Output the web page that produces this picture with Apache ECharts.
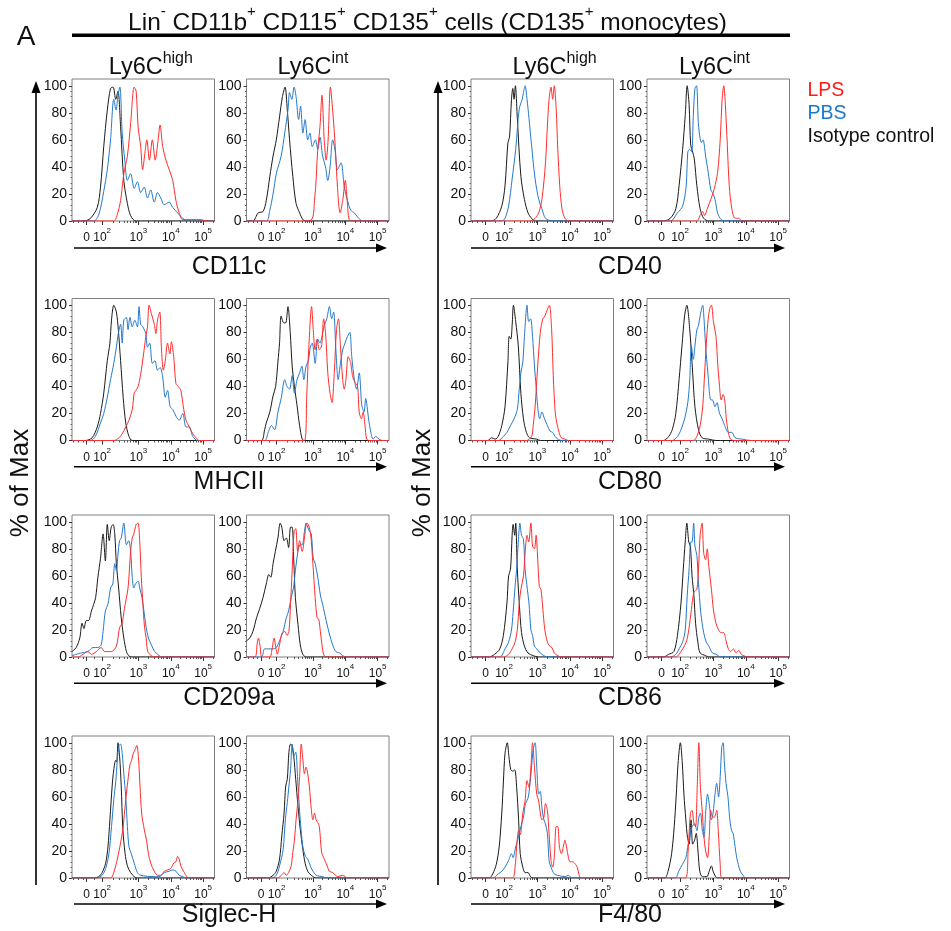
<!DOCTYPE html>
<html><head><meta charset="utf-8">
<script src="https://cdn.jsdelivr.net/npm/echarts/dist/echarts.min.js"></script>
<style>html,body{margin:0;padding:0;background:#fff}#c{width:951px;height:931px}</style>
</head><body><div id="c"></div>
<script>
// ---------- categories / ticks ----------
const markers = ['CD11c', 'MHCII', 'CD209a', 'Siglec-H', 'CD40', 'CD80', 'CD86', 'F4/80'];
const subsets = ['high', 'int'];
const groups = ['LPS', 'PBS', 'Isotype control'];
const yTickValues = [0, 20, 40, 60, 80, 100];
const xTickLabels = ['{b|0}', '{b|10}{s|2}', '{b|10}{s|3}', '{b|10}{s|4}', '{b|10}{s|5}'];
// positions of 0, 10^2..10^5 on the logicle display scale (decades)
const xTickValuesLeft = [1.40, 1.88, 3, 4, 5];
const xTickValuesRight = [1.40, 1.97, 3, 4, 5];
const XMIN = 0.95, XMAX = 5.35, YMAX = 105;

// ---------- data: [display-scale intensity, % of max] ----------
const CD11c_high_Iso = [[1.31,0],[1.52,2],[1.73,10],[1.83,25],[1.93,55],[2.04,82],[2.14,98],[2.22,99],[2.30,90],[2.37,96],[2.45,70],[2.55,30],[2.66,13],[2.76,4],[2.92,0]];
const CD11c_high_PBS = [[1.62,0],[1.78,5],[1.93,22],[2.04,38],[2.14,60],[2.24,90],[2.31,82],[2.37,93],[2.43,99],[2.50,65],[2.58,45],[2.66,30],[2.76,35],[2.87,24],[2.97,29],[3.07,21],[3.18,25],[3.28,17],[3.38,23],[3.49,14],[3.59,21],[3.69,17],[3.80,12],[3.95,14],[4.06,10],[4.21,6],[4.37,2],[4.52,0]];
const CD11c_high_LPS = [[2.24,0],[2.35,5],[2.45,15],[2.55,35],[2.66,48],[2.76,72],[2.87,99],[2.93,96],[2.99,70],[3.07,55],[3.13,38],[3.20,50],[3.26,60],[3.34,45],[3.43,60],[3.52,45],[3.60,58],[3.67,71],[3.75,55],[3.85,45],[3.95,38],[4.06,30],[4.16,15],[4.26,6],[4.37,1],[4.94,1],[5.09,0]];

const CD11c_int_Iso = [[1.15,0],[1.31,6],[1.46,7],[1.56,15],[1.67,33],[1.77,48],[1.87,60],[1.97,77],[2.06,92],[2.14,99],[2.21,82],[2.28,60],[2.38,33],[2.48,13],[2.59,6],[2.69,1],[2.79,0]];
const CD11c_int_PBS = [[1.56,0],[1.67,8],[1.77,20],[1.87,35],[2.02,48],[2.13,65],[2.23,82],[2.28,95],[2.35,90],[2.42,99],[2.48,92],[2.56,75],[2.62,85],[2.69,65],[2.76,75],[2.84,60],[2.91,65],[2.98,55],[3.08,60],[3.15,53],[3.22,62],[3.30,48],[3.39,40],[3.46,30],[3.53,40],[3.61,60],[3.68,53],[3.76,38],[3.87,43],[3.97,25],[4.07,15],[4.17,8],[4.28,6],[4.38,3],[4.53,0]];
const CD11c_int_LPS = [[2.89,0],[3.05,15],[3.15,53],[3.22,70],[3.28,93],[3.35,60],[3.41,45],[3.47,60],[3.54,99],[3.61,82],[3.69,55],[3.76,25],[3.84,6],[3.92,15],[4.00,30],[4.06,15],[4.12,1],[4.22,0]];

const MHCII_high_Iso = [[1.36,0],[1.57,2],[1.73,10],[1.83,20],[1.93,35],[2.04,59],[2.12,72],[2.17,89],[2.24,100],[2.32,95],[2.38,82],[2.45,59],[2.53,32],[2.61,13],[2.71,3],[2.81,0]];
const MHCII_high_PBS = [[1.52,0],[1.67,3],[1.83,13],[1.93,20],[2.04,32],[2.14,45],[2.24,57],[2.32,69],[2.38,79],[2.45,86],[2.50,72],[2.55,89],[2.63,91],[2.68,82],[2.74,91],[2.81,84],[2.89,89],[2.97,84],[3.02,99],[3.07,86],[3.14,84],[3.23,79],[3.28,69],[3.35,72],[3.43,57],[3.51,59],[3.59,52],[3.67,54],[3.75,47],[3.83,32],[3.90,37],[3.98,25],[4.06,23],[4.16,18],[4.26,15],[4.37,20],[4.47,10],[4.57,10],[4.68,3],[4.83,0]];
const MHCII_high_LPS = [[2.24,0],[2.40,2],[2.50,5],[2.61,10],[2.71,15],[2.81,23],[2.87,35],[2.92,37],[2.99,40],[3.07,49],[3.16,64],[3.23,77],[3.28,84],[3.33,100],[3.40,94],[3.49,86],[3.54,79],[3.59,89],[3.66,95],[3.71,69],[3.77,52],[3.83,59],[3.90,72],[3.97,64],[4.02,73],[4.09,62],[4.16,42],[4.23,40],[4.31,37],[4.40,23],[4.47,15],[4.57,10],[4.68,5],[4.78,2],[4.88,0]];

const MHCII_int_Iso = [[1.41,0],[1.51,8],[1.56,13],[1.67,21],[1.77,33],[1.85,40],[1.92,58],[1.97,72],[2.02,92],[2.10,87],[2.16,87],[2.23,99],[2.30,80],[2.36,55],[2.43,40],[2.51,26],[2.59,11],[2.67,1],[2.74,0]];
const MHCII_int_PBS = [[1.51,0],[1.62,6],[1.72,11],[1.82,8],[1.92,21],[2.02,31],[2.13,45],[2.20,40],[2.28,38],[2.36,48],[2.43,35],[2.51,45],[2.59,50],[2.66,55],[2.72,45],[2.79,55],[2.86,59],[2.92,69],[2.98,72],[3.07,57],[3.15,75],[3.22,72],[3.28,77],[3.35,85],[3.43,90],[3.51,99],[3.58,90],[3.64,95],[3.71,67],[3.78,45],[3.85,57],[3.92,67],[3.99,72],[4.07,77],[4.14,80],[4.20,62],[4.28,45],[4.35,38],[4.43,50],[4.51,26],[4.58,21],[4.63,31],[4.72,16],[4.79,6],[4.86,1],[4.94,3],[5.04,1],[5.15,0]];
const MHCII_int_LPS = [[2.74,0],[2.81,33],[2.87,67],[2.96,99],[3.01,82],[3.07,67],[3.13,75],[3.20,67],[3.27,70],[3.33,90],[3.39,80],[3.46,50],[3.53,35],[3.59,28],[3.66,50],[3.73,82],[3.79,90],[3.85,70],[3.92,45],[3.97,38],[4.02,45],[4.09,62],[4.17,57],[4.22,48],[4.30,43],[4.38,40],[4.43,21],[4.50,16],[4.55,21],[4.61,11],[4.66,1],[4.74,0]];

const CD209a_high_Iso = [[0.95,4],[1.08,7],[1.19,14],[1.26,25],[1.32,21],[1.39,27],[1.46,27],[1.55,34],[1.62,39],[1.68,44],[1.75,59],[1.83,73],[1.91,91],[1.98,71],[2.04,98],[2.10,86],[2.16,96],[2.22,98],[2.27,91],[2.32,69],[2.39,51],[2.47,29],[2.55,14],[2.63,4],[2.70,1],[2.78,0]];
const CD209a_high_PBS = [[0.95,1],[1.24,3],[1.44,4],[1.60,7],[1.75,7],[1.85,9],[1.91,19],[1.98,34],[2.06,39],[2.14,51],[2.21,54],[2.27,69],[2.32,64],[2.37,76],[2.42,86],[2.47,88],[2.55,99],[2.63,83],[2.70,86],[2.76,78],[2.81,59],[2.86,51],[2.91,54],[2.99,56],[3.04,51],[3.11,44],[3.17,34],[3.24,22],[3.31,14],[3.40,9],[3.50,4],[3.60,2],[3.71,0]];
const CD209a_high_LPS = [[1.14,0],[1.29,2],[1.44,4],[1.55,2],[1.70,4],[1.85,7],[1.96,4],[2.16,4],[2.32,8],[2.42,22],[2.49,24],[2.57,36],[2.68,51],[2.76,78],[2.81,88],[2.86,91],[2.93,98],[2.99,99],[3.04,86],[3.09,59],[3.14,39],[3.19,22],[3.24,14],[3.29,4],[3.40,1],[3.50,0]];

const CD209a_int_Iso = [[0.95,12],[1.05,14],[1.15,19],[1.26,29],[1.36,36],[1.46,44],[1.56,54],[1.64,61],[1.70,59],[1.77,69],[1.84,78],[1.92,88],[1.99,99],[2.04,96],[2.11,86],[2.18,88],[2.25,81],[2.31,96],[2.36,96],[2.41,71],[2.46,44],[2.54,24],[2.61,9],[2.69,2],[2.79,0]];
const CD209a_int_PBS = [[1.41,0],[1.51,6],[1.77,6],[1.87,7],[1.97,12],[2.08,19],[2.18,29],[2.25,34],[2.33,44],[2.40,51],[2.46,64],[2.54,78],[2.61,83],[2.67,83],[2.74,93],[2.79,99],[2.84,96],[2.89,93],[2.95,91],[3.01,73],[3.07,69],[3.15,59],[3.23,46],[3.30,39],[3.41,27],[3.51,17],[3.61,9],[3.71,4],[3.82,3],[3.92,1],[4.02,0]];
const CD209a_int_LPS = [[1.21,0],[1.28,10],[1.32,14],[1.37,8],[1.43,0],[1.67,0],[1.74,6],[1.80,14],[1.85,8],[1.90,2],[1.97,9],[2.04,17],[2.13,19],[2.20,16],[2.26,19],[2.31,39],[2.36,64],[2.42,93],[2.47,95],[2.53,78],[2.59,86],[2.67,78],[2.74,88],[2.81,99],[2.86,98],[2.93,91],[3.00,69],[3.07,44],[3.13,29],[3.18,28],[3.23,19],[3.28,9],[3.33,2],[3.41,0]];

const SiglecH_high_Iso = [[1.62,0],[1.78,1],[1.88,4],[1.99,11],[2.06,23],[2.12,43],[2.19,68],[2.24,80],[2.30,87],[2.33,86],[2.37,100],[2.42,90],[2.47,68],[2.52,36],[2.59,18],[2.66,9],[2.76,4],[2.87,1],[2.97,0]];
const SiglecH_high_PBS = [[1.73,0],[1.88,2],[1.99,7],[2.09,18],[2.17,38],[2.24,58],[2.30,71],[2.35,87],[2.40,98],[2.45,99],[2.50,92],[2.55,77],[2.61,60],[2.66,38],[2.71,23],[2.78,18],[2.87,11],[2.97,4],[3.07,2],[3.49,1],[3.64,1],[3.80,4],[3.95,5],[4.06,6],[4.16,5],[4.26,2],[4.37,1],[4.47,0]];
const SiglecH_high_LPS = [[2.14,0],[2.24,4],[2.35,14],[2.45,26],[2.52,36],[2.61,58],[2.69,75],[2.74,84],[2.79,87],[2.84,92],[2.90,95],[2.95,98],[3.00,90],[3.05,68],[3.10,48],[3.18,36],[3.25,28],[3.31,18],[3.38,11],[3.49,5],[3.59,2],[3.69,2],[3.80,5],[3.90,6],[4.00,7],[4.09,11],[4.16,12],[4.21,16],[4.26,14],[4.31,9],[4.37,6],[4.42,4],[4.49,1],[4.57,0]];

const SiglecH_int_Iso = [[1.62,0],[1.77,2],[1.87,5],[1.97,14],[2.04,31],[2.11,48],[2.16,68],[2.21,73],[2.26,93],[2.31,99],[2.36,98],[2.41,90],[2.47,73],[2.54,53],[2.61,36],[2.69,21],[2.76,11],[2.84,5],[2.95,2],[3.10,0]];
const SiglecH_int_PBS = [[1.72,0],[1.87,2],[1.97,9],[2.08,21],[2.15,43],[2.21,56],[2.26,68],[2.31,80],[2.36,99],[2.41,90],[2.47,93],[2.54,68],[2.61,43],[2.69,23],[2.77,16],[2.84,14],[2.92,9],[2.98,6],[3.10,2],[3.30,1],[3.41,0]];
const SiglecH_int_LPS = [[1.92,0],[2.02,2],[2.11,4],[2.18,2],[2.25,4],[2.33,9],[2.38,19],[2.43,28],[2.48,43],[2.54,58],[2.59,75],[2.64,99],[2.69,88],[2.74,77],[2.79,82],[2.84,77],[2.89,68],[2.95,51],[3.00,43],[3.05,48],[3.10,43],[3.15,41],[3.20,38],[3.27,19],[3.35,14],[3.44,9],[3.51,5],[3.61,4],[3.77,1],[3.92,2],[4.07,0]];

const CD40_high_Iso = [[1.57,0],[1.73,2],[1.90,11],[2.00,26],[2.09,58],[2.14,62],[2.20,90],[2.24,98],[2.28,90],[2.32,100],[2.38,76],[2.49,33],[2.60,16],[2.71,6],[2.82,2],[2.93,0]];
const CD40_high_PBS = [[1.90,0],[2.00,2],[2.11,11],[2.22,31],[2.33,53],[2.44,83],[2.53,90],[2.57,95],[2.62,100],[2.68,90],[2.74,76],[2.82,56],[2.93,31],[3.04,16],[3.14,9],[3.25,2],[3.47,0]];
const CD40_high_LPS = [[2.76,0],[2.93,2],[3.04,6],[3.14,16],[3.25,43],[3.31,71],[3.36,90],[3.42,99],[3.47,90],[3.52,100],[3.58,83],[3.63,53],[3.69,26],[3.76,9],[3.85,2],[3.98,0]];

const CD40_int_Iso = [[1.46,0],[1.67,2],[1.84,9],[1.94,26],[2.05,53],[2.13,78],[2.19,100],[2.25,86],[2.30,56],[2.36,51],[2.41,46],[2.49,26],[2.59,9],[2.70,2],[2.86,0]];
const CD40_int_PBS = [[1.67,0],[1.89,6],[2.05,11],[2.16,26],[2.21,51],[2.27,53],[2.33,51],[2.38,78],[2.43,98],[2.48,100],[2.54,71],[2.63,58],[2.68,60],[2.76,48],[2.84,36],[2.92,23],[2.97,21],[3.05,16],[3.13,6],[3.24,1],[3.40,0]];
const CD40_int_LPS = [[2.48,0],[2.59,4],[2.67,7],[2.73,4],[2.81,9],[2.92,16],[3.03,24],[3.13,36],[3.21,60],[3.27,90],[3.32,100],[3.37,86],[3.43,56],[3.49,26],[3.57,9],[3.67,2],[3.78,2],[3.89,0]];

const CD80_high_Iso = [[1.46,0],[1.59,2],[1.70,1],[1.79,3],[1.90,11],[2.00,25],[2.09,58],[2.13,77],[2.18,75],[2.22,85],[2.26,100],[2.33,88],[2.41,70],[2.49,35],[2.57,16],[2.66,6],[2.76,2],[2.98,1],[3.09,0]];
const CD80_high_PBS = [[1.79,0],[1.95,3],[2.06,6],[2.17,11],[2.28,16],[2.38,23],[2.44,38],[2.49,50],[2.55,58],[2.60,77],[2.68,100],[2.73,88],[2.79,90],[2.85,77],[2.91,55],[2.96,40],[3.01,25],[3.07,16],[3.14,21],[3.22,16],[3.31,11],[3.39,7],[3.47,6],[3.58,2],[3.74,0]];
const CD80_high_LPS = [[2.66,0],[2.82,3],[2.87,11],[2.93,25],[3.01,55],[3.09,80],[3.17,90],[3.23,92],[3.31,97],[3.37,100],[3.44,82],[3.49,48],[3.55,21],[3.60,13],[3.67,6],[3.74,2],[3.85,1],[3.96,0]];

const CD80_int_Iso = [[1.46,0],[1.62,3],[1.73,8],[1.84,20],[1.94,45],[2.03,70],[2.11,92],[2.18,100],[2.27,82],[2.36,50],[2.43,25],[2.54,8],[2.65,2],[2.86,1],[3.08,0]];
const CD80_int_PBS = [[1.73,0],[1.89,3],[2.00,8],[2.11,16],[2.21,28],[2.27,45],[2.32,70],[2.38,60],[2.43,70],[2.49,82],[2.54,85],[2.59,92],[2.67,100],[2.71,90],[2.76,70],[2.83,50],[2.92,30],[2.97,30],[3.05,25],[3.11,28],[3.19,20],[3.27,16],[3.35,11],[3.46,6],[3.57,6],[3.67,2],[3.89,1],[4.16,0]];
const CD80_int_LPS = [[2.38,0],[2.49,3],[2.59,11],[2.67,25],[2.73,50],[2.81,82],[2.88,97],[2.94,100],[3.00,88],[3.08,77],[3.13,58],[3.19,40],[3.24,30],[3.30,34],[3.35,30],[3.40,16],[3.46,6],[3.53,1],[3.62,0]];

const CD86_high_Iso = [[1.51,0],[1.68,2],[1.84,6],[1.95,16],[2.06,40],[2.11,60],[2.17,65],[2.22,90],[2.25,98],[2.30,90],[2.33,99],[2.38,65],[2.44,40],[2.51,18],[2.60,8],[2.71,3],[2.87,1],[3.04,0]];
const CD86_high_PBS = [[1.84,0],[2.00,6],[2.11,11],[2.20,20],[2.25,33],[2.31,52],[2.36,65],[2.41,85],[2.46,99],[2.51,90],[2.57,87],[2.62,65],[2.69,50],[2.74,40],[2.80,20],[2.85,16],[2.91,8],[2.98,6],[3.09,3],[3.20,1],[3.31,0]];
const CD86_high_LPS = [[1.95,0],[2.11,2],[2.22,6],[2.31,11],[2.38,20],[2.44,40],[2.49,50],[2.57,60],[2.63,80],[2.68,90],[2.73,85],[2.80,99],[2.85,82],[2.91,80],[2.96,90],[3.00,77],[3.06,52],[3.11,50],[3.17,35],[3.23,20],[3.31,11],[3.38,8],[3.45,7],[3.52,3],[3.63,1],[3.74,0]];

const CD86_int_Iso = [[1.46,0],[1.62,2],[1.78,4],[1.89,16],[2.00,40],[2.07,65],[2.13,85],[2.18,99],[2.24,85],[2.29,82],[2.34,60],[2.40,45],[2.45,25],[2.52,11],[2.59,3],[2.76,1],[2.86,0]];
const CD86_int_PBS = [[1.67,0],[1.84,2],[1.94,6],[2.05,11],[2.13,20],[2.19,45],[2.25,65],[2.30,85],[2.34,85],[2.39,99],[2.43,82],[2.49,75],[2.54,55],[2.61,33],[2.70,18],[2.78,11],[2.86,8],[2.97,3],[3.08,2],[3.24,0]];
const CD86_int_LPS = [[1.84,0],[1.94,2],[2.05,6],[2.16,11],[2.24,20],[2.32,35],[2.40,48],[2.49,50],[2.54,65],[2.59,90],[2.65,99],[2.70,77],[2.76,72],[2.81,80],[2.86,67],[2.94,50],[3.00,35],[3.08,25],[3.16,20],[3.24,18],[3.32,18],[3.38,13],[3.46,6],[3.53,4],[3.62,6],[3.70,3],[3.78,5],[3.86,2],[3.94,1],[4.05,0]];

const F480_high_Iso = [[1.51,0],[1.62,3],[1.73,10],[1.82,23],[1.90,48],[1.95,71],[2.00,92],[2.07,100],[2.12,90],[2.18,80],[2.24,79],[2.30,80],[2.36,67],[2.42,43],[2.47,18],[2.55,8],[2.62,4],[2.71,4],[2.79,1],[2.87,0]];
const F480_high_PBS = [[1.62,0],[1.79,3],[1.90,5],[2.00,8],[2.11,13],[2.20,18],[2.25,15],[2.33,23],[2.41,30],[2.49,38],[2.57,45],[2.63,55],[2.71,59],[2.76,67],[2.82,82],[2.87,95],[2.93,100],[2.98,82],[3.04,62],[3.09,64],[3.14,52],[3.20,43],[3.25,40],[3.31,33],[3.36,13],[3.42,8],[3.52,3],[3.63,2],[3.85,1],[3.96,2],[4.07,0]];
const F480_high_LPS = [[2.22,0],[2.31,8],[2.36,23],[2.42,35],[2.47,32],[2.55,48],[2.62,57],[2.68,72],[2.74,67],[2.80,82],[2.85,100],[2.91,82],[2.98,62],[3.04,57],[3.09,48],[3.14,43],[3.20,45],[3.25,55],[3.31,50],[3.36,33],[3.42,13],[3.47,8],[3.52,15],[3.58,38],[3.63,38],[3.68,23],[3.74,18],[3.80,23],[3.85,28],[3.90,23],[3.96,15],[4.01,12],[4.09,12],[4.18,10],[4.23,8],[4.29,2],[4.34,0]];

const F480_int_Iso = [[1.49,0],[1.60,5],[1.71,18],[1.79,38],[1.85,60],[1.91,85],[1.98,100],[2.04,85],[2.09,62],[2.15,43],[2.20,30],[2.25,25],[2.31,43],[2.36,25],[2.42,28],[2.47,33],[2.53,18],[2.58,5],[2.66,1],[2.80,1],[2.87,5],[2.94,9],[2.99,5],[3.07,1],[3.12,0]];
const F480_int_PBS = [[1.82,0],[1.93,5],[2.04,10],[2.15,15],[2.22,25],[2.29,33],[2.34,38],[2.42,40],[2.49,35],[2.55,45],[2.60,48],[2.66,35],[2.71,30],[2.76,48],[2.82,62],[2.87,55],[2.94,43],[2.99,48],[3.05,62],[3.10,70],[3.16,60],[3.21,75],[3.26,97],[3.30,100],[3.34,85],[3.39,70],[3.45,60],[3.50,45],[3.56,35],[3.61,33],[3.67,23],[3.72,15],[3.77,10],[3.83,5],[3.92,2],[3.99,0]];
const F480_int_LPS = [[2.14,0],[2.22,20],[2.29,48],[2.34,50],[2.40,40],[2.45,38],[2.50,67],[2.55,100],[2.60,67],[2.66,48],[2.71,30],[2.76,20],[2.82,15],[2.87,30],[2.92,50],[2.98,45],[3.03,45],[3.10,50],[3.15,35],[3.21,10],[3.26,0]];

// ---------- assemble ----------
const curves = {
  'CD11c':   {high: [CD11c_high_LPS, CD11c_high_PBS, CD11c_high_Iso], int: [CD11c_int_LPS, CD11c_int_PBS, CD11c_int_Iso]},
  'MHCII':   {high: [MHCII_high_LPS, MHCII_high_PBS, MHCII_high_Iso], int: [MHCII_int_LPS, MHCII_int_PBS, MHCII_int_Iso]},
  'CD209a':  {high: [CD209a_high_LPS, CD209a_high_PBS, CD209a_high_Iso], int: [CD209a_int_LPS, CD209a_int_PBS, CD209a_int_Iso]},
  'Siglec-H':{high: [SiglecH_high_LPS, SiglecH_high_PBS, SiglecH_high_Iso], int: [SiglecH_int_LPS, SiglecH_int_PBS, SiglecH_int_Iso]},
  'CD40':    {high: [CD40_high_LPS, CD40_high_PBS, CD40_high_Iso], int: [CD40_int_LPS, CD40_int_PBS, CD40_int_Iso]},
  'CD80':    {high: [CD80_high_LPS, CD80_high_PBS, CD80_high_Iso], int: [CD80_int_LPS, CD80_int_PBS, CD80_int_Iso]},
  'CD86':    {high: [CD86_high_LPS, CD86_high_PBS, CD86_high_Iso], int: [CD86_int_LPS, CD86_int_PBS, CD86_int_Iso]},
  'F4/80':   {high: [F480_high_LPS, F480_high_PBS, F480_high_Iso], int: [F480_int_LPS, F480_int_PBS, F480_int_Iso]}
};

// ---------- style / layout ----------
const FONT = "'Liberation Sans', Arial, Helvetica, sans-serif";
const groupColors = ['#ff2d2d', '#2379cc', '#1a1a1a'];
const legendColors = ['#ff1a1a', '#1a78cc', '#111111'];
const colLeft = [72, 246.5, 471, 647];
const rowTop = [79, 298.5, 515, 736];
const PW = 142.5, PH = 142;

function withBaseline(arr) {
  const a = arr.slice();
  if (a[0][0] > XMIN) a.unshift([XMIN, 0]);
  a.push([XMAX, 0]);
  return a;
}
function minorX(zero, hundred) {
  const t = [1.0, 1.15, 1.29, (zero + hundred) / 2];
  for (let k = 2; k <= 9; k++) t.push(hundred + (3 - hundred) * Math.log10(k));
  for (let d = 3; d <= 5; d++) for (let k = 2; k <= 9; k++) { const v = d + Math.log10(k); if (v < XMAX) t.push(v); }
  return t;
}
const yMinor = [];
for (let v = 4; v < 104; v += 4) if (v % 20 !== 0) yMinor.push(v);

const grid = [], xAxis = [], yAxis = [], series = [];
markers.forEach((mk, m) => {
  const side = m < 4 ? 0 : 1, row = m % 4;
  subsets.forEach((sb, c) => {
    const gi = grid.length;
    grid.push({left: colLeft[side * 2 + c], top: rowTop[row], width: PW, height: PH,
      show: true, borderColor: '#808080', borderWidth: 1, backgroundColor: 'transparent'});
    const xt = side ? xTickValuesRight : xTickValuesLeft;
    xAxis.push({type: 'value', gridIndex: gi, min: XMIN, max: XMAX, position: 'bottom',
      axisLine: {show: false}, splitLine: {show: false},
      axisTick: {show: true, customValues: xt, length: 4, lineStyle: {color: '#333', width: 1}},
      axisLabel: {show: true, customValues: xt, margin: 6, color: '#111', fontFamily: FONT,
        formatter: (v) => { const i = xt.findIndex(t => Math.abs(t - v) < 1e-6); return i < 0 ? '' : xTickLabels[i]; },
        rich: {b: {fontSize: 12, lineHeight: 17, verticalAlign: 'bottom', fontFamily: FONT, color: '#111'},
               s: {fontSize: 8, lineHeight: 9.5, verticalAlign: 'top', fontFamily: FONT, color: '#111'}}}});
    xAxis.push({type: 'value', gridIndex: gi, min: XMIN, max: XMAX, position: 'bottom',
      axisLine: {show: false}, splitLine: {show: false}, axisLabel: {show: false},
      axisTick: {show: true, customValues: minorX(xt[0], xt[1]), length: 2, lineStyle: {color: '#555', width: 1}}});
    yAxis.push({type: 'value', gridIndex: gi, min: 0, max: YMAX, position: 'left',
      axisLine: {show: false}, splitLine: {show: false},
      axisTick: {show: true, customValues: yTickValues, length: 3, lineStyle: {color: '#333'}},
      axisLabel: {show: true, customValues: yTickValues, margin: 5, fontSize: 14, color: '#111', fontFamily: FONT}});
    yAxis.push({type: 'value', gridIndex: gi, min: 0, max: YMAX, position: 'left',
      axisLine: {show: false}, splitLine: {show: false}, axisLabel: {show: false},
      axisTick: {show: true, customValues: yMinor, length: 1.5, lineStyle: {color: '#666'}}});
    const set = curves[mk][sb];
    [2, 1, 0].forEach(g => {
      series.push({type: 'line', name: groups[g], xAxisIndex: gi * 2, yAxisIndex: gi * 2,
        data: withBaseline(set[g]), showSymbol: false, symbol: 'none', smooth: 0.3,
        lineStyle: {width: 1, color: groupColors[g]}, z: 3 + (2 - g), silent: true});
    });
  });
});

// ---------- annotations ----------
const G = [];
const txt = (x, y, text, size, opt = {}) => G.push({type: 'text', x, y, rotation: opt.rot || 0, z: 50,
  style: Object.assign({text, fontSize: size, fontFamily: FONT, fill: opt.fill || '#111', align: opt.align || 'center', verticalAlign: 'middle'}, opt.style || {})});
const richSup = (b, s) => ({b: {fontSize: b, lineHeight: b * 1.25, verticalAlign: 'bottom', fontFamily: FONT, fill: '#111'},
                            s: {fontSize: s, lineHeight: s, verticalAlign: 'top', fontFamily: FONT, fill: '#111'}});
txt(26, 37, 'A', 28);
txt(427.5, 20, '{b|Lin}{s|-}{b| CD11b}{s|+}{b| CD115}{s|+}{b| CD135}{s|+}{b| cells (CD135}{s|+}{b| monocytes)}', 24.5, {style: {rich: richSup(24.5, 15)}});
G.push({type: 'rect', shape: {x: 72, y: 33.5, width: 718, height: 3.5}, style: {fill: '#000'}, z: 50});
const headerX = [150.8, 313, 554.6, 714.5];
headerX.forEach((x, i) => txt(x, 65, '{b|Ly6C}{s|' + subsets[i % 2] + '}', 23.5, {style: {rich: richSup(23.5, 16)}}));
// axis names + arrows
const arrowY = [248, 466.7, 683.3, 904];
const nameY = [267, 482, 698.5, 915];
markers.forEach((mk, m) => {
  const side = m < 4 ? 0 : 1, row = m % 4;
  const x1 = side ? 471 : 74, x2 = side ? 785 : 387, y = arrowY[row];
  G.push({type: 'line', shape: {x1, y1: y, x2: x2 - 9, y2: y}, style: {stroke: '#000', lineWidth: 1.6}, z: 50});
  G.push({type: 'polygon', shape: {points: [[x2, y], [x2 - 11, y - 4.5], [x2 - 11, y + 4.5]]}, style: {fill: '#000'}, z: 50});
  txt(side ? 630 : 229, nameY[row], mk, 25);
});
// big y arrows and labels
[36, 438].forEach((x, i) => {
  G.push({type: 'line', shape: {x1: x, y1: 885, x2: x, y2: 90}, style: {stroke: '#000', lineWidth: 1.6}, z: 50});
  G.push({type: 'polygon', shape: {points: [[x, 81], [x - 4.5, 93], [x + 4.5, 93]]}, style: {fill: '#000'}, z: 50});
  txt(i ? 423 : 21, 483, '% of Max', 26, {rot: Math.PI / 2});
});
// legend
[91, 113.3, 136.7].forEach((y, g) => txt(807.5, y, groups[g], 19.5, {align: 'left', fill: legendColors[g]}));

const chart = echarts.init(document.getElementById('c'), null, {renderer: 'canvas'});
chart.setOption({animation: false, backgroundColor: '#fff', grid, xAxis, yAxis, series, graphic: G});
</script></body></html>
